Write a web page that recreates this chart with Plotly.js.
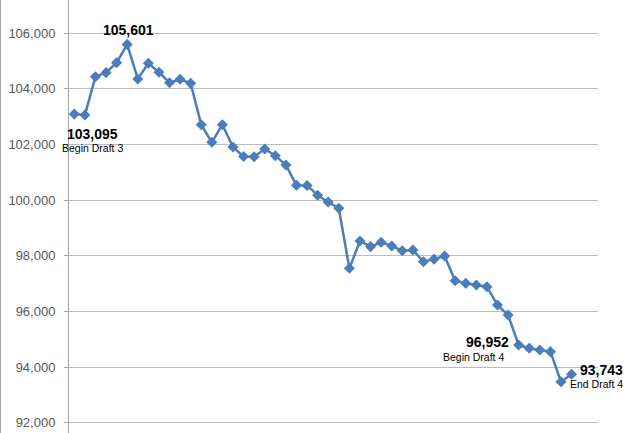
<!DOCTYPE html>
<html>
<head>
<meta charset="utf-8">
<script src="https://cdn.plot.ly/plotly-3.0.1.min.js"></script>
<style>
  html, body { margin: 0; padding: 0; background: #fff; overflow: hidden; }
  #wrap { position: absolute; left: 0; top: 0; width: 639px; height: 433px; border-left: 1px solid #a6a6a6; }
  #chart { width: 639px; height: 433px; }
</style>
</head>
<body>
<div id="wrap"><div id="chart"></div></div>
<script>
// Periods (x categories, 50 slots; 48 with data)
const periods = [1,2,3,4,5,6,7,8,9,10,11,12,13,14,15,16,17,18,19,20,21,22,23,24,25,26,27,28,29,30,31,32,33,34,35,36,37,38,39,40,41,42,43,44,45,46,47,48];
const totalSlots = 50;
// Values
const values = [103095,103060,104440,104585,104945,105601,104360,104920,104600,104225,104345,104200,
  102715,102080,102715,101910,101570,101560,101840,101600,101265,100540,100530,100180,
  99935,99710,97550,98530,98330,98485,98355,98185,98210,97790,97880,97995,
  97105,97010,96952,96890,96230,95870,94795,94675,94615,94555,93475,93743];
const yTicks = [92000,94000,96000,98000,100000,102000,104000,106000];
const yTickText = ['92,000','94,000','96,000','98,000','100,000','102,000','104,000','106,000'];

const blue = '#4a7ebb';
const boldFont = {family: 'Liberation Sans, Arial, sans-serif', size: 14, color: '#000'};
const smallFont = {family: 'Liberation Sans, Arial, sans-serif', size: 10.5, color: '#000'};

function ann(i, text, font, xanchor, xshift, yshift) {
  return {x: periods[i], y: values[i], xref: 'x', yref: 'y', text: text, showarrow: false,
    font: font, xanchor: xanchor, yanchor: 'middle', xshift: xshift, yshift: yshift};
}
const fmt = v => v.toLocaleString('en-US');

const annotations = [
  ann(5, '<b>' + fmt(values[5]) + '</b>', boldFont, 'center', 1, 14),
  ann(0, '<b>' + fmt(values[0]) + '</b>', boldFont, 'center', 18, -20),
  ann(0, 'Begin Draft 3', smallFont, 'center', 18, -33.5),
  ann(42, '<b>' + fmt(values[38]) + '</b>', boldFont, 'right', -8, 3),
  ann(42, 'Begin Draft 4', smallFont, 'right', -13, -12),
  ann(47, '<b>' + fmt(values[47]) + '</b>', boldFont, 'right', 53, 4),
  ann(47, 'End Draft 4', smallFont, 'right', 53, -10)
];

const trace = {
  x: periods, y: values, type: 'scatter', mode: 'lines+markers',
  line: {color: blue, width: 2.5},
  marker: {symbol: 'diamond', size: 8.5, color: blue},
  hoverinfo: 'skip'
};

const layout = {
  width: 639, height: 433,
  margin: {l: 68, r: 42, t: 0, b: 0, pad: 0},
  paper_bgcolor: '#fff', plot_bgcolor: '#fff',
  showlegend: false,
  xaxis: {range: [0.5, totalSlots + 0.5], showgrid: false, zeroline: false, showticklabels: false, showline: false, ticks: ''},
  yaxis: {range: [91630, 107197], tickvals: yTicks, ticktext: yTickText,
    showgrid: true, gridcolor: '#bdbdbd', gridwidth: 1, zeroline: false,
    showline: true, linecolor: '#a6a6a6', linewidth: 1,
    ticks: 'outside', ticklen: 4, tickcolor: '#a6a6a6', ticklabelstandoff: 6,
    tickfont: {family: 'Liberation Sans, Arial, sans-serif', size: 13, color: '#595959'}},
  annotations: annotations
};

Plotly.newPlot('chart', [trace], layout, {staticPlot: true, displayModeBar: false});
</script>
</body>
</html>
